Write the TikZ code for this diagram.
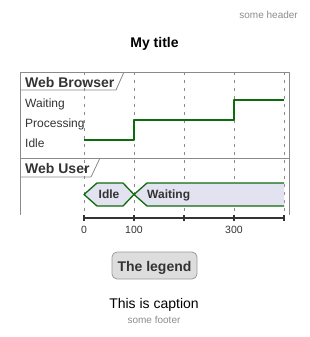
\documentclass[tikz,border=0pt]{standalone}
\usepackage{fontspec}
\setmainfont{Liberation Sans}
\usetikzlibrary{positioning}
\definecolor{txtgray}{HTML}{333333}
\definecolor{framegray}{HTML}{8A8A8A}
\definecolor{notegray}{HTML}{8C8C8C}
\definecolor{siggreen}{HTML}{0E6B0E}
\definecolor{statefill}{HTML}{E2E2F0}
\definecolor{legfill}{HTML}{DDDDDD}
\definecolor{legline}{HTML}{9A9A9A}
\tikzset{
  lbl/.style={inner sep=0pt, text=txtgray, font=\fontsize{12}{14}\selectfont},
  rowtitle/.style={inner sep=0pt, text=txtgray, font=\fontsize{14}{16}\selectfont\bfseries},
  statetxt/.style={inner sep=0pt, text=txtgray, font=\fontsize{12}{14}\selectfont\bfseries},
  ticklbl/.style={inner sep=0pt, text=txtgray, font=\fontsize{10.5}{12}\selectfont},
  frameline/.style={draw=framegray, line width=0.8pt},
  gridline/.style={draw=framegray, line width=0.6pt, dash pattern=on 3pt off 5pt},
  signal/.style={draw=siggreen, line width=1.8pt},
  stateline/.style={draw=siggreen, line width=1.3pt},
  axisline/.style={draw=txtgray, line width=1.6pt}
}
\begin{document}
\begin{tikzpicture}[x=1pt, y=-1pt, line join=round]
\useasboundingbox (0,0) rectangle (309,337);
\coordinate (FTL) at (20,72);
\coordinate (FTR) at (289,72);
\coordinate (FBL) at (20,215);
\coordinate (FBR) at (289,215);
\coordinate (SL) at (20,158);
\coordinate (SR) at (289,158);
\coordinate (T0) at (84,72);
\coordinate (T1) at (134,72);
\coordinate (T2) at (184,72);
\coordinate (T3) at (234,72);
\coordinate (T4) at (284,72);
\coordinate (A0) at (84,218);
\coordinate (A1) at (134,218);
\coordinate (A2) at (184,218);
\coordinate (A3) at (234,218);
\coordinate (A4) at (284,218);
\node[anchor=base east, inner sep=0pt, text=notegray, font=\fontsize{10}{12}\selectfont] (header) at (298,19) {some header};
\node[anchor=base, inner sep=0pt, font=\fontsize{14}{16}\selectfont\bfseries] (title) at (154.5,48) {My title};
\draw[gridline] (T0) -- (84,214);
\draw[gridline] (T1) -- (134,214);
\draw[gridline] (T2) -- (184,214);
\draw[gridline] (T3) -- (234,214);
\draw[gridline] (T4) -- (284,214);
\draw[frameline] (FBL) -- (FTL) -- (FTR) -- (FBR);
\draw[frameline] (SL) -- (SR);
\draw[frameline] (20,90) -- (116,90) -- (124,72);
\draw[frameline] (20,177) -- (91,177) -- (100,158);
\node[rowtitle, anchor=base west] (browser) at (25,87) {Web Browser};
\node[rowtitle, anchor=base west] (user) at (25,173) {Web User};
\node[lbl, anchor=base west] (waitlbl) at (25,107.5) {Waiting};
\node[lbl, anchor=base west] (proclbl) at (25,127.5) {Processing};
\node[lbl, anchor=base west] (idlelbl) at (25,147.5) {Idle};
\draw[signal] (84,140) -- (134,140) -- (134,120) -- (234,120) -- (234,100) -- (284,100);
\fill[statefill] (284,183) -- (147,183) -- (134,194.5) -- (147,206) -- (284,206) -- cycle;
\draw[stateline] (284,183) -- (147,183) -- (134,194.5) -- (147,206) -- (284,206);
\draw[stateline, fill=statefill] (84,194.5) -- (97,183) -- (123,183) -- (134,194.5) -- (123,206) -- (97,206) -- cycle;
\node[statetxt, anchor=base] (idlestate) at (109,198.5) {Idle};
\node[statetxt, anchor=base west] (waitstate) at (147,198.5) {Waiting};
\draw[axisline] (A0) -- (A4);
\draw[axisline] (84,215) -- (84,221);
\draw[axisline] (134,215) -- (134,221);
\draw[axisline] (184,215) -- (184,221);
\draw[axisline] (234,215) -- (234,221);
\draw[axisline] (284,215) -- (284,221);
\node[ticklbl, anchor=base] (tick0) at (84,233) {0};
\node[ticklbl, anchor=base] (tick100) at (134,233) {100};
\node[ticklbl, anchor=base] (tick300) at (234,233) {300};
\node[draw=legline, fill=legfill, rounded corners=5pt, line width=0.8pt, minimum width=85pt, minimum height=27pt, inner sep=0pt] (legend) at (154.5,265.5) {};
\node[anchor=base, inner sep=0pt, text=txtgray, font=\fontsize{14}{16}\selectfont\bfseries] (legtxt) at (154.5,271) {The legend};
\node[anchor=base, inner sep=0pt, font=\fontsize{14}{16}\selectfont] (caption) at (154,308) {This is caption};
\node[anchor=base, inner sep=0pt, text=notegray, font=\fontsize{10}{12}\selectfont] (footer) at (154,323.5) {some footer};
\end{tikzpicture}
\end{document}
